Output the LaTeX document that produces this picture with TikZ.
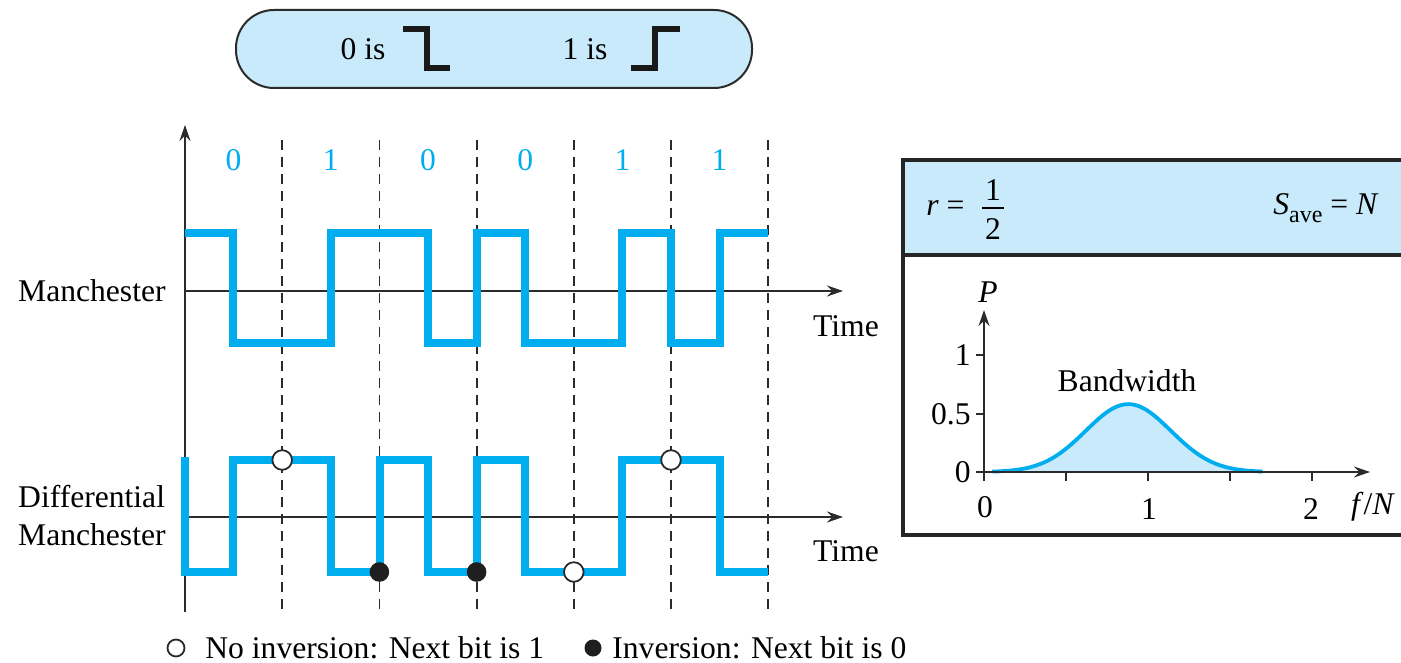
\documentclass[tikz,border=0pt]{standalone}
\usepackage{fontspec}
\setmainfont{Liberation Serif}
\usetikzlibrary{arrows.meta}
\definecolor{cyanw}{HTML}{00AEEF}
\definecolor{lblue}{HTML}{C8EAFA}
\definecolor{axisc}{HTML}{2B2B2B}
\begin{document}
\begin{tikzpicture}[x=0.5pt,y=-0.5pt,
  font=\fontsize{15.8}{19}\selectfont,
  wave/.style={cyanw, line width=4.2pt, line join=miter},
  axisline/.style={axisc, line width=0.75pt},
  axisarrow/.style={axisline, -{Stealth[length=8pt,width=5.5pt]}},
  gridline/.style={axisc, line width=0.9pt, dash pattern=on 5pt off 3.5pt},
  bitlbl/.style={text=cyanw, inner sep=0},
  lbl/.style={inner sep=0},
  opendot/.style={circle, draw=axisc, fill=white, line width=0.9pt, minimum size=9.8pt, inner sep=0},
  fulldot/.style={circle, fill=black!88, minimum size=9.8pt, inner sep=0},
  stepsym/.style={black!90, line width=2.6pt, line join=miter},
  boxline/.style={black!85, line width=1.7pt}]
\useasboundingbox (0,0) rectangle (1401,663);

% top legend pill
\draw[draw=axisc, fill=lblue, line width=1pt, rounded corners=19pt] (236,10) rectangle (752,88);
\node[lbl] (zerois) at (363,49) {0 is};
\draw[stepsym] (403,29) -- (427,29) -- (427,68) -- (450,68);
\node[lbl] (oneis) at (585,49) {1 is};
\draw[stepsym] (631,68) -- (655,68) -- (655,29) -- (680,29);

% grid lines
\foreach \i in {1,...,6}
  \draw[gridline] ({185+97.2*\i},140) -- ({185+97.2*\i},612);

% bit labels
\foreach \b [count=\i from 0] in {0,1,0,0,1,1}
  \node[bitlbl] (bit\i) at ({233.6+97.2*\i},160) {\b};

% axes
\coordinate (vbot) at (185,612);
\coordinate (vtop) at (185,125);
\draw[axisarrow] (vbot) -- (vtop);
\coordinate (m0) at (185,291);
\coordinate (m1) at (843,291);
\draw[axisarrow] (m0) -- (m1);
\coordinate (d0) at (185,517);
\coordinate (d1) at (843,517);
\draw[axisarrow] (d0) -- (d1);

% Manchester waveform
\draw[wave] (185,233) -- (233,233) -- (233,343) -- (331,343) -- (331,233)
  -- (428,233) -- (428,343) -- (477,343) -- (477,233) -- (525,233)
  -- (525,343) -- (622,343) -- (622,233) -- (671,233) -- (671,343)
  -- (720,343) -- (720,233) -- (768,233);

% Differential Manchester waveform
\draw[wave] (185,457) -- (185,572) -- (233,572) -- (233,460) -- (331,460)
  -- (331,572) -- (380,572) -- (380,460) -- (428,460) -- (428,572)
  -- (477,572) -- (477,460) -- (525,460) -- (525,572) -- (622,572)
  -- (622,460) -- (720,460) -- (720,572) -- (768,572);

% dots
\node[opendot] (o1) at (282.2,460) {};
\node[fulldot] (f1) at (379.4,572) {};
\node[fulldot] (f2) at (476.6,572) {};
\node[opendot] (o2) at (573.8,572) {};
\node[opendot] (o3) at (671,460) {};

% labels
\node[lbl, anchor=east] (manlbl) at (166,291) {Manchester};
\node[lbl, anchor=east, align=left, font=\fontsize{15.8}{19}\selectfont] (difflbl) at (166,516) {Differential\\Manchester};
\node[lbl] (time1) at (846,326) {Time};
\node[lbl] (time2) at (846,551) {Time};

% bottom legend
\node[circle, draw=axisc, line width=0.9pt, minimum size=8.5pt, inner sep=0] (lgo) at (176,648) {};
\node[lbl, anchor=west] (lgotext) at (205,648) {No inversion: Next bit is 1};
\node[circle, fill=black!88, minimum size=8.5pt, inner sep=0] (lgf) at (593,648) {};
\node[lbl, anchor=west] (lgftext) at (612,648) {Inversion: Next bit is 0};

% right box
\fill[lblue] (903,160) rectangle (1405,255);
\draw[boxline] (903,160) rectangle (1405,535);
\draw[boxline] (903,255) -- (1405,255);
\node[lbl, anchor=west] (req) at (926,208) {\textit{r} =};
\node[lbl] (num) at (993,190) {1};
\node[lbl] (den) at (993,229) {2};
\draw[line width=0.7pt] (982,208) -- (1004,208);
\node[lbl, anchor=east] (save) at (1379,208) {\textit{S}\raisebox{-0.55ex}{\fontsize{12}{14}\selectfont ave} = \textit{N}};

% plot
\coordinate (o) at (984,472);
\fill[lblue] plot[domain=0.05:1.70, samples=80] ({984+164*\x},{472-117*0.58*exp(-(\x-0.88)*(\x-0.88)/0.135)}) -- cycle;
\draw[cyanw, line width=1.9pt] plot[domain=0.05:1.70, samples=80] ({984+164*\x},{472-117*0.58*exp(-(\x-0.88)*(\x-0.88)/0.135)});
\coordinate (xa0) at (976,472);
\coordinate (xa1) at (1370,472);
\draw[axisarrow] (xa0) -- (xa1);
\coordinate (ya0) at (984,481);
\coordinate (ya1) at (984,310);
\draw[axisarrow] (ya0) -- (ya1);
\draw[axisline] (976,355) -- (984,355);
\draw[axisline] (976,414) -- (984,414);
\foreach \t in {0.5,1,1.5,2}
  \draw[axisline] ({984+164*\t},472) -- ({984+164*\t},481);
\node[lbl, anchor=east] (y1) at (971,355) {1};
\node[lbl, anchor=east] (y05) at (971,414) {0.5};
\node[lbl, anchor=east] (y0) at (971,472) {0};
\node[lbl] (x0) at (985,507) {0};
\node[lbl] (x1) at (1149,509) {1};
\node[lbl] (x2) at (1311,509) {2};
\node[lbl] (xlab) at (1373,507) {\textit{f}/\textit{N}};
\node[lbl] (ylab) at (988,292) {\textit{P}};
\node[lbl] (bw) at (1127,381) {Bandwidth};
\end{tikzpicture}
\end{document}
